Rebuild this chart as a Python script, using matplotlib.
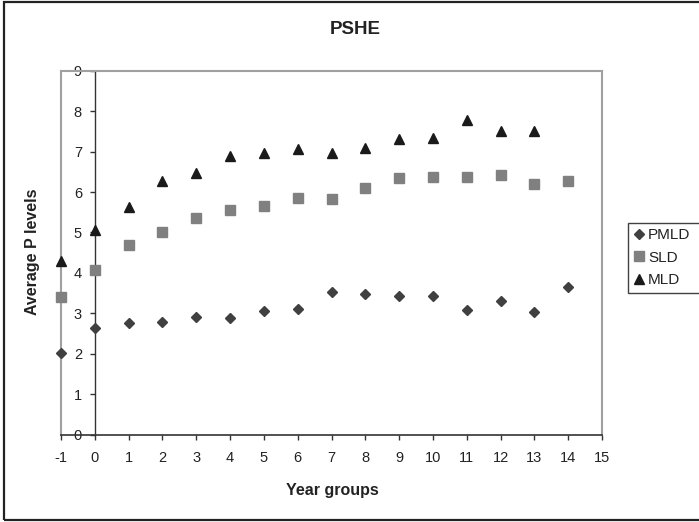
import matplotlib
matplotlib.use("Agg")
import matplotlib.pyplot as plt
from matplotlib.patches import Rectangle

plt.rcParams['font.family'] = ['Liberation Sans', 'DejaVu Sans']
plt.rcParams['axes.unicode_minus'] = False

years = [-1, 0, 1, 2, 3, 4, 5, 6, 7, 8, 9, 10, 11, 12, 13, 14]
pmld = [2.03, 2.63, 2.75, 2.79, 2.90, 2.88, 3.05, 3.12, 3.52, 3.49, 3.43, 3.43, 3.08, 3.31, 3.03, 3.64]
sld = [3.40, 4.06, 4.69, 5.01, 5.35, 5.55, 5.66, 5.86, 5.84, 6.10, 6.34, 6.38, 6.37, 6.41, 6.19, 6.28]
mld_years = [-1, 0, 1, 2, 3, 4, 5, 6, 7, 8, 9, 10, 11, 12, 13]
mld = [4.29, 5.05, 5.63, 6.28, 6.46, 6.89, 6.97, 7.07, 6.97, 7.08, 7.32, 7.34, 7.79, 7.50, 7.50]
x_ticks = list(range(-1, 16))
y_ticks = list(range(0, 10))

W, H = 699, 522
fig = plt.figure(figsize=(W / 100, H / 100), dpi=100)
fig.patch.set_facecolor('white')

left, right, top, bottom = 61, 602, 70.7, 434.7
ax = fig.add_axes([left / W, 1 - bottom / H, (right - left) / W, (bottom - top) / H])

grey = '#a0a0a0'
dark = '#333333'

ax.plot(years, pmld, linestyle='none', marker='D', markersize=4.8,
        color='#404040', label='PMLD', clip_on=False, zorder=5)
ax.plot(years, sld, linestyle='none', marker='s', markersize=7.0,
        color='#808080', label='SLD', clip_on=False, zorder=5)
ax.plot(mld_years, mld, linestyle='none', marker='^', markersize=7.2,
        color='#1a1a1a', label='MLD', clip_on=False, zorder=5)

ax.set_xlim(-1, 15)
ax.set_ylim(0, 9)
ax.set_xticks(x_ticks)
ax.set_yticks(y_ticks)

ax.spines['top'].set_color(grey)
ax.spines['right'].set_color(grey)
ax.spines['top'].set_linewidth(1.5)
ax.spines['right'].set_linewidth(1.5)
ax.spines['left'].set_position(('data', 0))
ax.spines['left'].set_color(dark)
ax.spines['left'].set_linewidth(1.0)
ax.spines['bottom'].set_color(dark)
ax.spines['bottom'].set_linewidth(1.2)
ax.axvline(-1, color=grey, linewidth=1.5, clip_on=False, zorder=1)

ax.tick_params(axis='x', direction='out', length=3.8, width=1.0, color=dark,
               labelsize=10.5, pad=8, labelcolor='#222222')
ax.tick_params(axis='y', direction='out', length=3.8, width=1.0, color=dark,
               labelsize=10.5, pad=5.5, labelcolor='#222222')

fig.text(355 / W, 1 - 30 / H, 'PSHE', ha='center', va='center',
         fontsize=13.5, fontweight='bold', color='#222222')
fig.text(33 / W, 1 - 252 / H, 'Average P levels', ha='center', va='center',
         rotation=90, fontsize=11.5, fontweight='bold', color='#222222')
fig.text(332 / W, 1 - 491 / H, 'Year groups', ha='center', va='center',
         fontsize=11.5, fontweight='bold', color='#222222')

leg = ax.legend(loc='upper left', bbox_to_anchor=(628 / W, 1 - 223 / H, 0.14, 0),
                bbox_transform=fig.transFigure, mode='expand', frameon=True,
                fancybox=False, fontsize=11, handlelength=0.7, handletextpad=0.25,
                borderpad=0.35, labelspacing=0.55, borderaxespad=0,
                edgecolor='#111111')
leg.get_frame().set_linewidth(1.0)
for t in leg.get_texts():
    t.set_color('#222222')

fig.add_artist(Rectangle((3.5 / W, 1 - 519.5 / H), 1.05, (519.5 - 2) / H,
                         transform=fig.transFigure, fill=False,
                         edgecolor='#222222', linewidth=1.6, clip_on=True))

fig.savefig('out.png', dpi=100)
